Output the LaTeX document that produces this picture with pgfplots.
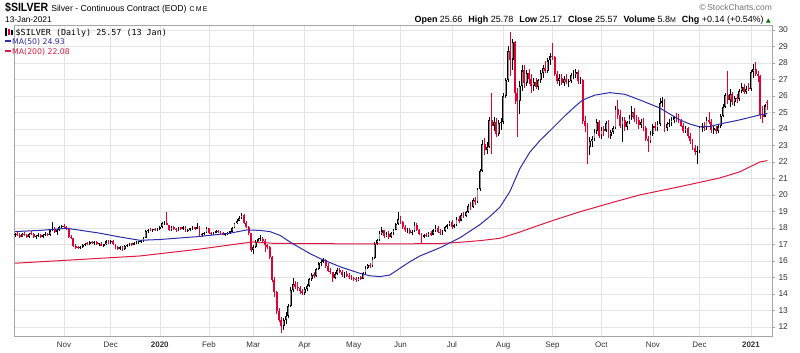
\documentclass[border=0pt]{standalone}
\usepackage{fontspec}
\setmainfont{Liberation Sans}
\newfontfamily\vfont{DejaVu Sans}
\newfontfamily\mfont{DejaVu Sans Mono}
\usepackage{pgfplots}
\usepackage{pgfplotstable}
\pgfplotsset{compat=1.18}
\definecolor{maBlue}{RGB}{45,45,170}
\definecolor{maRed}{RGB}{220,25,65}
\definecolor{cRed}{RGB}{225,0,50}
\definecolor{gridc}{RGB}{228,228,228}
\definecolor{framec}{RGB}{165,165,165}

\pgfplotstableread{
i o h l c
0 17.55 17.70 17.45 17.62
1 17.62 17.75 17.50 17.55
2 17.55 17.68 17.42 17.48
3 17.48 17.70 17.45 17.65
4 17.65 17.78 17.50 17.55
5 17.55 17.62 17.38 17.45
6 17.45 17.72 17.42 17.66
7 17.66 17.80 17.55 17.62
8 17.62 17.70 17.40 17.45
9 17.45 17.60 17.35 17.52
10 17.52 17.68 17.45 17.60
11 17.60 17.65 17.40 17.48
12 17.48 17.62 17.42 17.58
13 17.58 17.75 17.50 17.62
14 17.62 17.70 17.50 17.55
15 17.55 17.92 17.52 17.85
16 17.85 18.38 17.80 17.95
17 17.95 18.05 17.70 17.78
18 17.78 17.92 17.60 17.85
19 17.85 18.12 17.80 18.05
20 18.05 18.20 17.95 18.12
21 18.12 18.22 17.98 18.05
22 18.05 18.12 17.85 17.92
23 17.92 17.98 17.40 17.48
24 17.48 17.55 17.30 17.38
25 17.38 17.42 16.85 16.92
26 16.92 17.00 16.72 16.80
27 16.80 16.90 16.70 16.78
28 16.78 16.92 16.72 16.85
29 16.85 17.02 16.80 16.95
30 16.95 17.10 16.88 17.05
31 17.05 17.15 16.95 17.00
32 17.00 17.18 16.95 17.12
33 17.12 17.20 17.02 17.08
34 17.08 17.18 16.98 17.15
35 17.15 17.22 16.95 17.00
36 17.00 17.10 16.92 17.05
37 17.05 17.12 16.88 16.92
38 16.92 17.05 16.85 17.00
39 17.00 17.25 16.98 17.18
40 17.18 17.28 17.05 17.12
41 17.12 17.25 17.02 17.20
42 17.20 17.25 16.95 17.00
43 17.00 17.05 16.75 16.82
44 16.82 16.92 16.68 16.75
45 16.75 16.88 16.65 16.80
46 16.80 16.90 16.62 16.70
47 16.70 16.95 16.66 16.90
48 16.90 17.00 16.82 16.92
49 16.92 17.08 16.88 17.02
50 17.02 17.10 16.92 16.98
51 16.98 17.12 16.95 17.08
52 17.08 17.20 17.00 17.12
53 17.12 17.22 17.05 17.15
54 17.15 17.25 17.10 17.20
55 17.20 17.45 17.15 17.40
56 17.40 17.85 17.38 17.80
57 17.80 17.95 17.72 17.88
58 17.88 17.98 17.80 17.85
59 17.85 17.95 17.78 17.90
60 17.90 18.02 17.82 17.85
61 17.85 17.98 17.80 17.92
62 17.92 18.12 17.88 18.05
63 18.05 18.35 18.02 18.28
64 18.28 18.45 18.15 18.30
65 18.30 18.97 18.25 18.15
66 18.15 18.20 17.80 17.88
67 17.88 18.10 17.82 18.05
68 18.05 18.12 17.85 17.92
69 17.92 18.00 17.78 17.85
70 17.85 18.05 17.80 17.98
71 17.98 18.08 17.88 17.95
72 17.95 18.10 17.90 18.05
73 18.05 18.10 17.75 17.80
74 17.80 17.95 17.75 17.90
75 17.90 18.00 17.82 17.95
76 17.95 18.10 17.90 18.02
77 18.02 18.08 17.88 17.95
78 17.95 18.30 17.92 18.05
79 18.05 18.10 17.50 17.55
80 17.55 17.70 17.48 17.62
81 17.62 17.78 17.58 17.70
82 17.70 18.05 17.68 17.98
83 17.98 18.00 17.62 17.68
84 17.68 17.75 17.55 17.62
85 17.62 17.78 17.58 17.72
86 17.72 17.85 17.68 17.80
87 17.80 17.88 17.70 17.75
88 17.75 17.82 17.62 17.68
89 17.68 17.75 17.55 17.60
90 17.60 17.70 17.52 17.65
91 17.65 17.78 17.60 17.72
92 17.72 17.82 17.65 17.78
93 17.78 18.05 17.75 18.00
94 18.00 18.32 17.98 18.28
95 18.28 18.52 18.22 18.45
96 18.45 18.70 18.40 18.62
97 18.62 18.92 18.55 18.80
98 18.80 18.85 18.25 18.30
99 18.30 18.40 17.98 18.05
100 18.05 18.10 17.60 17.68
101 17.68 17.72 16.55 16.65
102 16.65 16.95 16.45 16.85
103 16.85 17.25 16.80 17.15
104 17.15 17.42 17.10 17.30
105 17.30 17.55 17.22 17.35
106 17.35 17.48 17.10 17.20
107 17.20 17.30 16.55 16.95
108 16.95 17.05 16.70 16.82
109 16.82 16.90 16.10 16.25
110 16.25 16.30 14.70 14.85
111 14.85 15.00 13.80 14.10
112 14.10 14.20 12.80 12.95
113 12.95 13.15 12.30 12.45
114 12.45 12.60 11.64 12.05
115 12.05 12.55 11.80 12.40
116 12.40 12.90 12.20 12.65
117 12.65 13.40 12.55 13.25
118 13.25 14.40 13.20 14.25
119 14.25 14.95 14.10 14.60
120 14.60 14.80 14.30 14.45
121 14.45 14.70 14.20 14.35
122 14.35 14.50 14.00 14.15
123 14.15 14.30 13.95 14.05
124 14.05 14.40 13.95 14.30
125 14.30 14.60 14.20 14.50
126 14.50 14.95 14.45 14.90
127 14.90 15.25 14.80 15.15
128 15.15 15.35 14.95 15.10
129 15.10 15.60 15.05 15.50
130 15.50 15.95 15.45 15.85
131 15.85 16.05 15.70 15.95
132 15.95 16.20 15.85 16.05
133 16.05 16.10 15.60 15.70
134 15.70 15.85 15.30 15.40
135 15.40 15.55 15.20 15.30
136 15.30 15.35 14.75 14.95
137 14.95 15.30 14.90 15.20
138 15.20 15.55 15.15 15.45
139 15.45 15.60 15.25 15.35
140 15.35 15.45 15.05 15.15
141 15.15 15.30 14.95 15.20
142 15.20 15.40 15.05 15.10
143 15.10 15.25 14.90 15.00
144 15.00 15.15 14.85 14.95
145 14.95 15.05 14.80 14.90
146 14.90 15.00 14.75 14.85
147 14.85 15.05 14.78 15.00
148 15.00 15.10 14.85 14.92
149 14.92 15.30 14.88 15.25
150 15.25 15.70 15.20 15.60
151 15.60 15.80 15.50 15.75
152 15.75 15.90 15.60 15.68
153 15.68 16.25 15.65 16.15
154 16.15 17.15 16.10 17.05
155 17.05 17.35 16.95 17.25
156 17.25 17.80 17.20 17.70
157 17.70 18.05 17.55 17.85
158 17.85 17.90 17.40 17.50
159 17.50 17.75 17.45 17.65
160 17.65 17.80 17.35 17.45
161 17.45 17.75 17.40 17.70
162 17.70 17.95 17.60 17.88
163 17.88 18.30 17.85 18.25
164 18.25 18.97 18.20 18.55
165 18.55 18.70 18.25 18.35
166 18.35 18.45 17.95 18.05
167 18.05 18.15 17.75 17.85
168 17.85 18.00 17.70 17.90
169 17.90 17.98 17.62 17.70
170 17.70 17.85 17.58 17.78
171 17.78 18.36 17.75 18.20
172 18.20 18.30 17.80 17.85
173 17.85 17.95 17.55 17.62
174 17.62 17.70 17.10 17.45
175 17.45 17.65 17.40 17.58
176 17.58 17.72 17.45 17.52
177 17.52 17.78 17.48 17.70
178 17.70 17.80 17.50 17.60
179 17.60 17.92 17.55 17.85
180 17.85 18.15 17.78 18.02
181 18.02 18.10 17.70 17.78
182 17.78 17.95 17.60 17.70
183 17.70 17.85 17.55 17.80
184 17.80 18.12 17.75 18.05
185 18.05 18.25 17.95 18.15
186 18.15 18.45 18.10 18.35
187 18.35 18.50 17.95 18.05
188 18.05 18.25 17.98 18.15
189 18.15 18.65 18.10 18.55
190 18.55 18.70 18.30 18.45
191 18.45 18.90 18.40 18.80
192 18.80 18.95 18.60 18.72
193 18.72 19.05 18.65 18.95
194 18.95 19.45 18.90 19.35
195 19.35 19.55 19.10 19.25
196 19.25 19.80 19.20 19.70
197 19.70 19.90 19.40 19.55
198 19.55 20.45 19.50 20.35
199 20.35 21.60 20.25 21.45
200 21.45 23.30 21.40 23.10
201 23.10 23.45 22.40 22.70
202 22.70 23.20 22.50 22.90
203 22.90 24.70 22.85 24.55
204 24.55 26.20 22.50 24.20
205 24.20 24.75 23.90 24.40
206 24.40 24.65 23.50 23.70
207 23.70 24.55 23.55 24.35
208 24.35 24.65 23.95 24.40
209 24.40 26.20 24.30 26.00
210 26.00 27.10 25.90 26.95
211 26.95 29.00 26.85 28.75
212 28.75 29.90 27.20 28.20
213 28.20 29.45 27.60 29.25
214 29.25 29.35 25.50 26.20
215 26.20 26.50 23.50 25.70
216 25.70 26.90 24.90 26.60
217 26.60 27.90 26.30 27.55
218 27.55 27.85 26.50 26.80
219 26.80 27.60 26.60 27.40
220 27.40 27.65 26.70 27.00
221 27.00 27.30 26.20 26.60
222 26.60 27.10 26.30 26.85
223 26.85 27.10 26.40 26.55
224 26.55 27.05 26.35 26.95
225 26.95 27.55 26.80 27.40
226 27.40 27.90 27.10 27.70
227 27.70 28.10 27.40 27.50
228 27.50 28.30 27.40 28.15
229 28.15 28.60 27.90 28.40
230 28.40 29.20 28.20 28.35
231 28.35 28.45 27.20 27.35
232 27.35 27.50 26.70 26.90
233 26.90 27.30 26.60 27.10
234 27.10 27.35 26.65 26.80
235 26.80 27.20 26.60 27.05
236 27.05 27.30 26.70 26.85
237 26.85 27.05 26.55 26.90
238 26.90 27.40 26.80 27.25
239 27.25 27.55 27.05 27.30
240 27.30 27.65 27.10 27.45
241 27.45 27.55 26.75 26.90
242 26.90 27.15 26.70 26.95
243 26.95 27.00 24.30 24.50
244 24.50 24.80 23.80 24.15
245 24.15 24.35 21.90 22.90
246 22.90 23.50 22.40 23.25
247 23.25 23.60 22.90 23.40
248 23.40 24.00 23.25 23.85
249 23.85 24.60 23.70 24.40
250 24.40 24.55 23.45 23.60
251 23.60 24.10 23.40 23.95
252 23.95 24.20 23.60 23.90
253 23.90 24.50 23.80 24.35
254 24.35 24.55 23.45 23.60
255 23.60 23.95 23.40 23.80
256 23.80 24.20 23.70 24.05
257 24.05 25.40 24.00 25.20
258 25.20 25.75 24.60 24.85
259 24.85 25.15 24.05 24.20
260 24.20 24.75 23.20 24.55
261 24.55 24.70 23.90 24.10
262 24.10 24.50 23.95 24.40
263 24.40 24.85 24.30 24.70
264 24.70 25.40 24.55 25.05
265 25.05 25.25 24.45 24.60
266 24.60 24.85 24.30 24.55
267 24.55 24.75 24.00 24.25
268 24.25 24.60 24.05 24.45
269 24.45 24.65 23.90 24.05
270 24.05 24.20 23.25 23.40
271 23.40 23.60 22.60 23.25
272 23.25 23.90 23.15 23.70
273 23.70 24.30 23.60 24.15
274 24.15 24.45 23.90 24.05
275 24.05 24.50 23.85 24.30
276 24.30 25.90 24.20 25.60
277 25.60 25.95 25.30 25.70
278 25.70 25.80 23.80 24.05
279 24.05 24.45 23.85 24.30
280 24.30 24.60 24.10 24.35
281 24.35 24.70 24.20 24.55
282 24.55 24.80 24.35 24.70
283 24.70 24.95 24.45 24.65
284 24.65 24.90 24.35 24.50
285 24.50 24.60 24.10 24.20
286 24.20 24.35 23.75 23.90
287 23.90 24.15 23.75 24.05
288 24.05 24.10 23.45 23.60
289 23.60 23.75 23.10 23.25
290 23.25 23.40 22.70 22.85
291 22.85 23.00 22.40 22.60
292 22.60 22.95 21.90 22.65
293 22.65 24.20 22.55 24.10
294 24.10 24.35 23.80 24.15
295 24.15 24.40 23.90 24.05
296 24.05 24.70 23.95 24.55
297 24.55 25.00 24.30 24.40
298 24.40 24.60 23.75 23.95
299 23.95 24.20 23.70 24.00
300 24.00 24.20 23.70 23.85
301 23.85 24.25 23.75 24.15
302 24.15 24.90 24.05 24.80
303 24.80 25.50 24.70 25.35
304 25.35 26.20 25.25 26.05
305 26.05 27.50 25.50 25.75
306 25.75 26.40 25.30 26.10
307 26.10 26.25 25.45 25.65
308 25.65 26.00 25.40 25.90
309 25.90 26.10 25.55 25.80
310 25.80 26.45 25.70 26.30
311 26.30 26.80 26.15 26.55
312 26.55 26.70 26.10 26.25
313 26.25 26.60 26.10 26.45
314 26.45 26.80 26.30 26.40
315 26.40 27.60 26.30 27.45
316 27.45 27.95 27.10 27.65
317 27.65 28.07 27.20 27.35
318 27.35 27.50 26.85 27.20
319 27.20 27.25 24.60 24.85
320 24.85 25.40 24.36 24.75
321 24.75 25.50 24.70 25.43
322 25.66 25.78 25.17 25.57
}\candles

% build one jump-separated path per candle part from the table
\def\wickB{}\def\wickR{}\def\bodyB{}\def\bodyR{}\def\bodyW{}
\pgfplotstablegetrowsof{\candles}
\pgfmathtruncatemacro\nrows{\pgfplotsretval-1}
\foreach \r in {0,...,\nrows}{%
  \pgfplotstablegetelem{\r}{i}\of\candles\let\vi\pgfplotsretval
  \pgfplotstablegetelem{\r}{o}\of\candles\let\vo\pgfplotsretval
  \pgfplotstablegetelem{\r}{h}\of\candles\let\vh\pgfplotsretval
  \pgfplotstablegetelem{\r}{l}\of\candles\let\vl\pgfplotsretval
  \pgfplotstablegetelem{\r}{c}\of\candles\let\vc\pgfplotsretval
  \pgfmathsetmacro\bb{min(\vo,\vc)}%
  \pgfmathsetmacro\bt{max(max(\vo,\vc),\bb+0.08)}%
  \ifdim\vc pt<\vo pt
    \xdef\wickR{\wickR(\vi,\vl)(\vi,\vh)(\vi,nan)}%
    \xdef\bodyR{\bodyR(\vi,\bb)(\vi,\bt)(\vi,nan)}%
  \else
    \xdef\wickB{\wickB(\vi,\vl)(\vi,\vh)(\vi,nan)}%
    \xdef\bodyB{\bodyB(\vi,\bb)(\vi,\bt)(\vi,nan)}%
    \pgfmathsetmacro\wb{\bb+0.07}%
    \pgfmathsetmacro\wt{\bt-0.07}%
    \ifdim\wt pt>\wb pt
      \xdef\bodyW{\bodyW(\vi,\wb)(\vi,\wt)(\vi,nan)}%
    \fi
  \fi
}

\begin{document}
\begin{tikzpicture}[x=1bp,y=1bp]
\useasboundingbox (0,0) rectangle (800,352);
\begin{axis}[
  at={(14bp,16bp)}, anchor=south west,
  width=758bp, height=311bp, scale only axis,
  xmin=-0.4, xmax=324, ymin=11.45, ymax=30.3,
  ytick={12,13,...,30},
  ytick pos=right, yticklabel pos=right, xtick pos=bottom,
  xtick={21,41,62,83,102,124,145,165,187,209,230,251,273,293,315},
  xticklabels={Nov,Dec,\textbf{2020},Feb,Mar,Apr,May,Jun,Jul,Aug,Sep,Oct,Nov,Dec,\textbf{2021}},
  grid=major, major grid style={draw=gridc, line width=0.6bp},
  axis line style={draw=framec, line width=0.8bp},
  tick align=outside, major tick length=3bp,
  ytick style={draw=framec}, xtick style={draw=none},
  yticklabel style={font=\fontsize{8.5}{9}\selectfont, text=black!80},
  xticklabel style={font=\fontsize{8}{9}\selectfont, text=black!80, yshift=1bp},
  /pgf/number format/assume math mode=true,
  unbounded coords=jump,
]
\edef\temp{\noexpand\addplot[black, line width=0.7bp, mark=none, forget plot] coordinates {\wickB};}\temp
\edef\temp{\noexpand\addplot[cRed, line width=0.7bp, mark=none, forget plot] coordinates {\wickR};}\temp
\edef\temp{\noexpand\addplot[black, line width=1.8bp, mark=none, forget plot] coordinates {\bodyB};}\temp
\edef\temp{\noexpand\addplot[black!45, line width=0.6bp, mark=none, forget plot] coordinates {\bodyW};}\temp
\edef\temp{\noexpand\addplot[cRed, line width=1.8bp, mark=none, forget plot] coordinates {\bodyR};}\temp
% MA(200)
\addplot[maRed, line width=1bp, mark=none] coordinates {
(0,15.86) (53.5,16.30) (79.2,16.72) (96.3,17.05) (101.8,17.15) (110.4,17.07) (121.9,17.05)
(156.2,17.03) (181.9,17.05) (190.4,17.13) (199.0,17.23) (207.5,17.37) (216.1,17.75) (223,18.1)
(230.2,18.45) (241.8,18.98) (254.6,19.50) (267.4,20.00) (284.5,20.50) (301.7,21.03) (310.2,21.40)
(318.8,22.00) (322,22.08)};
% MA(50)
\addplot[maBlue, line width=1bp, mark=none] coordinates {
(0,17.78) (10.7,17.85) (22.2,17.98) (36.4,17.68) (44.9,17.45) (53.5,17.25) (62.1,17.30)
(77.9,17.47) (92.0,17.68) (99.3,17.88) (104.8,17.85) (109.1,17.78) (113.4,17.55) (117.7,17.15)
(121.9,16.80) (126.2,16.45) (130.5,16.15) (134.8,15.90) (139.1,15.65) (143.3,15.45) (147.6,15.25)
(151.9,15.10) (156.2,15.05) (160.5,15.15) (164.7,15.55) (169.0,15.95) (173.3,16.30) (177.6,16.55)
(181.9,16.80) (186.1,17.10) (190.4,17.40) (194.7,17.80) (199.0,18.20) (203.3,18.70) (207.5,19.25)
(211.8,20.20) (216.1,21.60) (220.4,22.60) (224.7,23.30) (230.2,24.06) (235.4,24.80) (239.6,25.35)
(243.0,25.76) (248.2,26.05) (254.6,26.20) (261.0,26.10) (267.4,25.76) (276.0,25.27) (280.3,24.90)
(284.5,24.55) (288.8,24.30) (293.1,24.12) (297.4,24.15) (301.7,24.30) (310.2,24.55) (318.8,24.85)
(322,24.93)};
\end{axis}
% header
\node[anchor=base west, inner sep=0] at (5,340.5) {{\fontsize{12}{12}\selectfont\bfseries\addfontfeature{FakeStretch=0.88}\$SILVER}\hspace{3bp}{\fontsize{8.7}{10}\selectfont Silver - Continuous Contract (EOD)}\hspace{3bp}{\fontsize{7}{8}\selectfont C\,M\,E}};
\node[anchor=base west, inner sep=0] at (5,329.5) {\fontsize{8.3}{9}\selectfont 13-Jan-2021};
\node[anchor=base east, inner sep=0, text=black!55] at (772,342) {\fontsize{8.5}{9}\selectfont\vfont ©\hspace{0.5bp}\rmfamily StockCharts.com};
\node[anchor=base east, inner sep=0] at (771,329.5) {\fontsize{9}{10}\selectfont
  \textbf{Open} 25.66\hspace{6bp}\textbf{High} 25.78\hspace{6bp}\textbf{Low} 25.17\hspace{6bp}\textbf{Close} 25.57\hspace{6bp}\textbf{Volume} 5.8{\fontsize{7}{8}\selectfont M}\hspace{6bp}\textbf{Chg} +0.14 (+0.54\%) {\vfont\fontsize{6}{6}\selectfont\color{green!45!black}▲}};
% legend
\draw[black, line width=1.1bp] (6,316) -- (6,323.5);
\draw[cRed, line width=1.1bp] (9,317) -- (9,322.5);
\draw[black, line width=1.1bp] (12,317.5) -- (12,321.5);
\node[anchor=base west, inner sep=0] at (15.5,316.5) {\mfont\fontsize{8.4}{9}\selectfont \$SILVER (Daily) 25.57 (13 Jan)};
\draw[maBlue, line width=1.3bp] (5,311) -- (11,311);
\node[anchor=base west, inner sep=0, text=maBlue] at (12,308) {\vfont\fontsize{7.8}{8}\selectfont MA(50) 24.93};
\draw[maRed, line width=1.3bp] (5,301) -- (11,301);
\node[anchor=base west, inner sep=0, text=maRed] at (12,298) {\vfont\fontsize{7.8}{8}\selectfont MA(200) 22.08};
\end{tikzpicture}
\end{document}
